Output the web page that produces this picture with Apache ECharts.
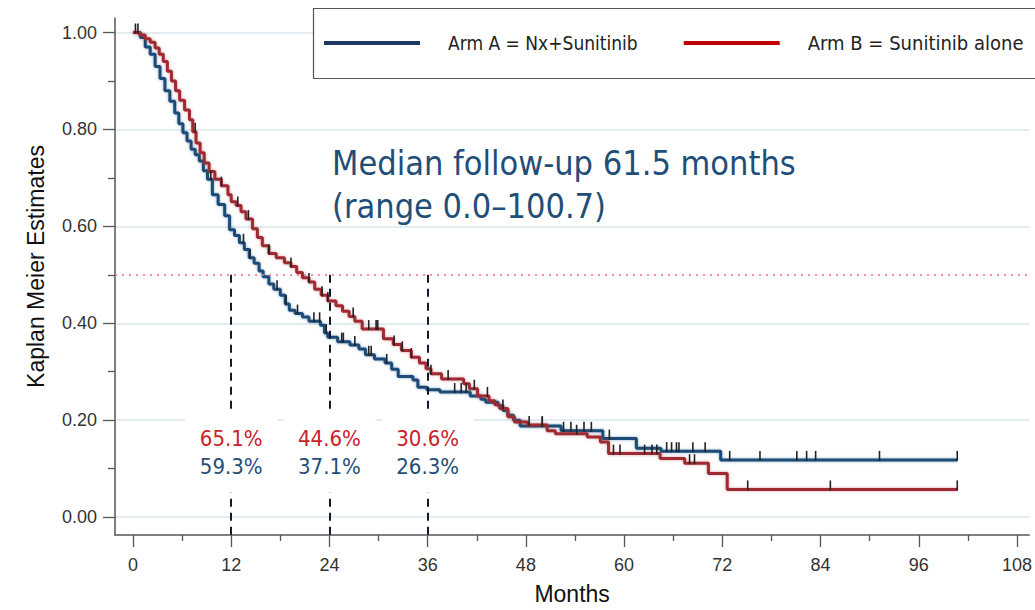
<!DOCTYPE html>
<html><head><meta charset="utf-8">
<script src="https://cdn.jsdelivr.net/npm/echarts@6/dist/echarts.min.js"></script>
<style>html,body{margin:0;padding:0;background:#fff}#c{width:1035px;height:610px}</style>
</head><body><div id="c"></div>
<script>
// ---- data ----
const armA_name = 'Arm A = Nx+Sunitinib';
const armB_name = 'Arm B = Sunitinib alone';
const armA_time = [0,0.9,1.5,2.1,2.7,3.3,3.9,4.5,5.1,5.6,6.1,6.6,7.1,7.6,8.1,8.6,9.1,9.7,10.4,11.2,11.8,12.4,13.0,13.6,14.2,14.8,15.4,15.9,16.6,17.2,18.0,18.6,19.1,19.8,20.7,21.5,22.9,23.4,23.8,25.0,26.5,27.6,28.4,29.5,30.8,31.6,32.4,34.2,34.8,35.9,37.5,41.2,42.5,43.1,44.6,45.2,45.8,46.5,47.3,52.3,57.4,61.5,64.5,71.8,100.7];
const armA_surv = [1.0,0.99,0.97,0.955,0.93,0.905,0.88,0.858,0.834,0.812,0.793,0.776,0.759,0.748,0.735,0.715,0.697,0.665,0.645,0.622,0.593,0.581,0.566,0.552,0.535,0.524,0.508,0.496,0.481,0.47,0.458,0.44,0.427,0.42,0.413,0.404,0.396,0.38,0.371,0.362,0.355,0.347,0.335,0.326,0.318,0.305,0.29,0.283,0.268,0.263,0.258,0.25,0.243,0.237,0.23,0.22,0.21,0.2,0.188,0.178,0.162,0.142,0.136,0.118,0.118];
const armB_time = [0,0.8,1.5,2.1,2.7,3.2,3.7,4.2,4.7,5.2,5.7,6.3,6.9,7.3,7.7,8.2,8.7,9.3,10.0,10.8,11.6,12.0,12.6,13.2,13.8,14.6,15.2,15.8,16.6,17.5,18.5,19.3,20.0,20.7,21.5,22.2,23.0,23.8,24.8,25.6,26.4,27.1,28.0,30.6,31.8,32.8,34.0,35.0,35.8,36.4,37.7,40.4,41.1,42.1,43.5,44.2,44.8,45.8,46.6,48.2,50.6,51.6,55.5,57.1,58.1,64.4,67.4,70.3,72.6,100.7];
const armB_surv = [1.0,0.995,0.987,0.98,0.968,0.955,0.94,0.92,0.9,0.88,0.86,0.84,0.82,0.795,0.772,0.752,0.731,0.713,0.697,0.684,0.665,0.651,0.643,0.63,0.615,0.595,0.577,0.56,0.544,0.535,0.525,0.517,0.505,0.494,0.485,0.47,0.458,0.446,0.436,0.425,0.414,0.404,0.388,0.368,0.356,0.344,0.33,0.318,0.306,0.296,0.285,0.275,0.265,0.25,0.24,0.232,0.224,0.207,0.196,0.19,0.178,0.172,0.165,0.155,0.131,0.121,0.111,0.09,0.057,0.057];
const armA_censor = [0.3,0.6,9.5,13.5,14.3,17.6,18.7,20.1,22.1,22.8,23.6,25.5,25.7,27.1,28.8,29.1,31,39.3,40.1,40.7,50,52.6,53.5,55.1,56,58.2,65.2,65.8,66.4,66.7,68.4,69.9,72.9,76.6,81.1,82.3,83.4,91.2,100.7];
const armB_censor = [7.6,10.8,12.8,14.1,16.6,19.3,21.5,23.1,23.8,26.9,28.8,29.7,29.9,31.9,32.9,34,36.4,38.5,41.7,43.3,45.2,48.4,50,54.2,58.7,59.5,62.5,63.4,64,68,68.6,75.1,85.2,100.7];
const landmarkMonths = [12, 24, 36];
const armB_landmarkPct = [65.1, 44.6, 30.6];
const armA_landmarkPct = [59.3, 37.1, 26.3];
const medianLevel = 0.5;
const xLabelValues = [0,12,24,36,48,60,72,84,96,108];
const xMinorTickValues = [6,18,30,42,54,66,78,90,102];
const yLabelValues = [0,0.2,0.4,0.6,0.8,1.0];
const yMinorTickValues = [0.1,0.3,0.5,0.7,0.9];
const titleText = 'Median follow-up 61.5 months\n(range 0.0\u2013100.7)';

// ---- helpers ----
const Y_MIN = -0.037, Y_MAX = 1.03, X_MIN = -2.2, X_MAX = 109.5;
const pairs = (t, s) => t.map((v, i) => [v, s[i]]);
function survAt(times, surv, t) {
  let v = surv[0];
  for (let i = 0; i < times.length; i++) { if (times[i] <= t) v = surv[i]; else break; }
  return v;
}
const cond = '"DejaVu Sans Condensed","DejaVu Sans",sans-serif';
const arial = '"Liberation Sans",Arial,sans-serif';
const BLUE = '#1d4b78', RED = '#a02b33';
const axisCol = '#555';

const chart = echarts.init(document.getElementById('c'), null, {renderer: 'svg'});
chart.setOption({
  animation: false,
  backgroundColor: '#fff',
  title: {
    text: titleText, left: 327, top: 136,
    textStyle: {fontFamily: cond, fontSize: 34, fontWeight: 'normal', color: '#1f4e79', lineHeight: 43}
  },
  graphic: [{
    type: 'rect', z: 3, shape: {x: 313.5, y: 8.5, width: 800, height: 70},
    style: {fill: '#fff', stroke: '#555', lineWidth: 1.2}
  }],
  legend: {
    left: 324, top: 33, width: 900, padding: 0, z: 5,
    icon: 'rect', itemWidth: 96, itemHeight: 4, itemGap: 46,
    textStyle: {fontFamily: cond, fontSize: 19, color: '#222', padding: [0, 0, 0, 23]},
    data: [
      {name: armA_name, itemStyle: {color: '#1f3864'}},
      {name: armB_name, itemStyle: {color: '#c00000'}, textStyle: {fontSize: 20}}
    ]
  },
  grid: {left: 115, right: 0, top: 18, bottom: 71, containLabel: false},
  xAxis: [{
    type: 'value', min: X_MIN, max: X_MAX,
    name: 'Months', nameLocation: 'middle', nameGap: 47,
    nameTextStyle: {fontFamily: arial, fontSize: 23, color: '#111'},
    axisLine: {show: true, onZero: false, lineStyle: {color: axisCol, width: 1.5}},
    axisTick: {show: true, customValues: xLabelValues, length: 12, lineStyle: {color: axisCol, width: 1.3}},
    axisLabel: {customValues: xLabelValues, fontFamily: arial, fontSize: 18, color: '#333', margin: 21},
    splitLine: {show: false}
  }, {
    type: 'value', min: X_MIN, max: X_MAX, position: 'bottom',
    axisLine: {show: false, onZero: false},
    axisTick: {show: true, customValues: xMinorTickValues, length: 6, lineStyle: {color: axisCol, width: 1.3}},
    axisLabel: {show: false}, splitLine: {show: false}
  }],
  yAxis: [{
    type: 'value', min: Y_MIN, max: Y_MAX,
    name: 'Kaplan Meier Estimates', nameLocation: 'middle', nameGap: 68, nameRotate: 90,
    nameTextStyle: {fontFamily: arial, fontSize: 23, color: '#111', padding: [0, 0, 0, 20]},
    axisLine: {show: true, onZero: false, lineStyle: {color: axisCol, width: 1.5}},
    axisTick: {show: true, customValues: yLabelValues, length: 12, lineStyle: {color: axisCol, width: 1.3}},
    axisLabel: {customValues: yLabelValues, formatter: v => v.toFixed(2), fontFamily: arial, fontSize: 18, color: '#333', margin: 18},
    splitLine: {show: true, lineStyle: {color: '#e2ecf1', width: 2}}
  }, {
    type: 'value', min: Y_MIN, max: Y_MAX, position: 'left',
    axisLine: {show: false, onZero: false},
    axisTick: {show: true, customValues: yMinorTickValues, length: 7, lineStyle: {color: axisCol, width: 1.3}},
    axisLabel: {show: false}, splitLine: {show: false}
  }],
  series: [
    {
      name: armA_name, type: 'line', step: 'end', showSymbol: false, z: 3,
      data: pairs(armA_time, armA_surv), color: BLUE,
      lineStyle: {color: BLUE, width: 3, shadowColor: 'rgba(29,75,120,0.45)', shadowBlur: 3}
    },
    {
      name: armB_name, type: 'line', step: 'end', showSymbol: false, z: 3,
      data: pairs(armB_time, armB_surv), color: RED,
      lineStyle: {color: RED, width: 3, shadowColor: 'rgba(160,43,51,0.45)', shadowBlur: 3},
      markLine: {
        silent: true, symbol: 'none', label: {show: false}, animation: false,
        data: [
          {yAxis: medianLevel, lineStyle: {color: '#ec6f86', type: [2, 5], width: 1.5}},
          ...landmarkMonths.map(m => [
            {coord: [m, medianLevel], lineStyle: {color: '#141a2e', type: [8, 6], width: 2}},
            {coord: [m, Y_MIN]}
          ])
        ]
      }
    },
    {
      type: 'scatter', z: 4, silent: true, symbol: 'rect', symbolSize: [1.6, 10], symbolOffset: [0, -4],
      itemStyle: {color: '#222', opacity: 1},
      data: armA_censor.map(t => [t, survAt(armA_time, armA_surv, t)])
    },
    {
      type: 'scatter', z: 4, silent: true, symbol: 'rect', symbolSize: [1.6, 10], symbolOffset: [0, -4],
      itemStyle: {color: '#222', opacity: 1},
      data: armB_censor.map(t => [t, survAt(armB_time, armB_surv, t)])
    },
    {
      type: 'scatter', z: 6, silent: true, symbolSize: 1, itemStyle: {opacity: 1, color: '#fff'},
      data: landmarkMonths.map(m => [m, 0.133]),
      label: {
        show: true, position: 'inside', opacity: 1,
        formatter: p => '{r|' + armB_landmarkPct[p.dataIndex].toFixed(1) + '%}\n{b|' + armA_landmarkPct[p.dataIndex].toFixed(1) + '%}',
        backgroundColor: '#fff', width: 92, height: 56, padding: [12, 0, 12, 0], align: 'center', verticalAlign: 'middle',
        rich: {
          r: {fontFamily: cond, fontSize: 22, color: '#c8222b', lineHeight: 28, align: 'center'},
          b: {fontFamily: cond, fontSize: 22, color: '#1f4e79', lineHeight: 28, align: 'center'}
        }
      }
    }
  ]
});
</script></body></html>
